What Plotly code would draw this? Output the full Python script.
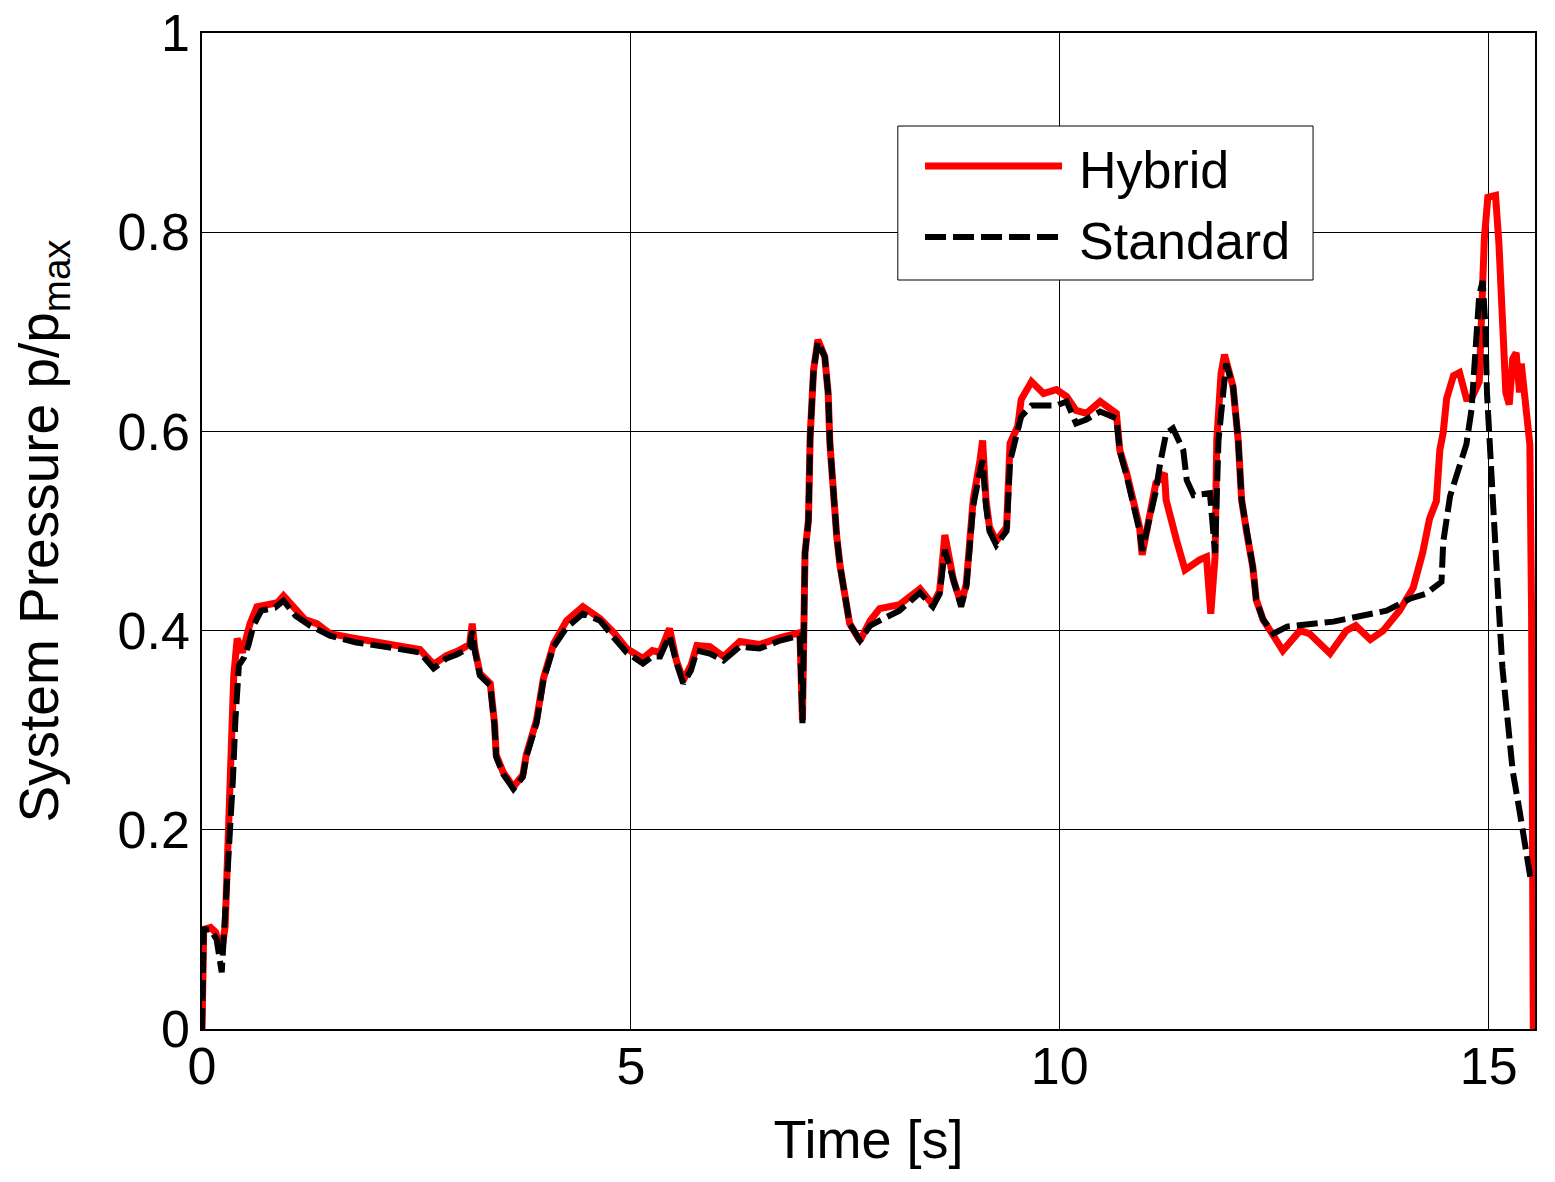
import plotly.graph_objects as go

# Hybrid run (red, solid)
t_hybrid = [0.00, 0.02, 0.10, 0.16, 0.21, 0.24, 0.27, 0.29, 0.31, 0.35, 0.37, 0.41, 0.47, 0.52, 0.56,
            0.64, 0.76, 0.88, 0.95, 1.09, 1.20, 1.34, 1.49, 1.80, 2.19, 2.54, 2.70, 2.85, 2.97, 3.12,
            3.15, 3.18, 3.24, 3.36, 3.41, 3.43, 3.51, 3.63, 3.74, 3.78, 3.90, 3.98, 4.10, 4.25, 4.44,
            4.50, 4.64, 4.80, 4.95, 5.14, 5.25, 5.34, 5.45, 5.53, 5.61, 5.70, 5.77, 5.92, 6.08, 6.27,
            6.50, 6.74, 6.97, 7.00, 7.03, 7.07, 7.09, 7.13, 7.18, 7.26, 7.30, 7.32, 7.36, 7.40, 7.44,
            7.49, 7.55, 7.67, 7.79, 7.90, 8.13, 8.37, 8.52, 8.60, 8.66, 8.76, 8.85, 8.91, 8.95, 8.99,
            9.07, 9.10, 9.14, 9.18, 9.26, 9.38, 9.42, 9.51, 9.55, 9.67, 9.81, 9.96, 10.08, 10.19, 10.31,
            10.47, 10.66, 10.70, 10.78, 10.85, 10.93, 10.96, 11.01, 11.12, 11.22, 11.24, 11.36, 11.46,
            11.63, 11.71, 11.76, 11.81, 11.83, 11.88, 11.92, 12.02, 12.08, 12.12, 12.18, 12.25, 12.29,
            12.37, 12.49, 12.60, 12.80, 12.91, 13.15, 13.34, 13.45, 13.62, 13.77, 13.96, 14.12, 14.23,
            14.31, 14.39, 14.43, 14.47, 14.51, 14.59, 14.66, 14.74, 14.80, 14.89, 14.93, 14.95, 14.99,
            15.08, 15.12, 15.16, 15.20, 15.24, 15.28, 15.32, 15.36, 15.38, 15.40, 15.44, 15.48, 15.50,
            15.52]
p_hybrid = [0.000, 0.100, 0.102, 0.097, 0.080, 0.085, 0.103, 0.163, 0.220, 0.290, 0.354, 0.392, 0.378,
            0.394, 0.407, 0.424, 0.426, 0.428, 0.435, 0.420, 0.411, 0.407, 0.397, 0.392, 0.386, 0.381,
            0.366, 0.375, 0.379, 0.386, 0.407, 0.382, 0.357, 0.347, 0.307, 0.275, 0.258, 0.243, 0.255,
            0.275, 0.310, 0.352, 0.387, 0.410, 0.424, 0.420, 0.412, 0.398, 0.382, 0.372, 0.380, 0.378,
            0.402, 0.370, 0.350, 0.365, 0.385, 0.384, 0.374, 0.389, 0.386, 0.393, 0.398, 0.310, 0.478,
            0.511, 0.595, 0.662, 0.692, 0.675, 0.638, 0.588, 0.538, 0.494, 0.464, 0.437, 0.407, 0.390,
            0.410, 0.422, 0.426, 0.442, 0.426, 0.440, 0.496, 0.451, 0.427, 0.447, 0.484, 0.531, 0.571,
            0.591, 0.531, 0.504, 0.490, 0.504, 0.588, 0.605, 0.632, 0.650, 0.638, 0.642, 0.635, 0.621,
            0.618, 0.630, 0.618, 0.581, 0.558, 0.531, 0.504, 0.476, 0.501, 0.548, 0.558, 0.531, 0.491,
            0.461, 0.471, 0.474, 0.417, 0.474, 0.591, 0.658, 0.677, 0.645, 0.591, 0.531, 0.498, 0.464,
            0.431, 0.411, 0.395, 0.380, 0.400, 0.397, 0.377, 0.400, 0.405, 0.391, 0.400, 0.420, 0.443,
            0.478, 0.512, 0.530, 0.581, 0.599, 0.633, 0.656, 0.659, 0.633, 0.633, 0.650, 0.748, 0.794,
            0.835, 0.837, 0.788, 0.708, 0.639, 0.627, 0.673, 0.679, 0.639, 0.668, 0.650, 0.622, 0.587,
            0.420, 0.000]

# Standard run (black, dashed)
t_standard = [0.00, 0.02, 0.10, 0.17, 0.23, 0.26, 0.29, 0.33, 0.36, 0.39, 0.43, 0.49, 0.54, 0.60, 0.69,
              0.85, 0.95, 1.09, 1.26, 1.49, 1.80, 2.19, 2.54, 2.70, 2.85, 2.97, 3.12, 3.15, 3.18, 3.24,
              3.36, 3.41, 3.43, 3.51, 3.63, 3.74, 3.78, 3.90, 3.98, 4.10, 4.25, 4.44, 4.50, 4.64, 4.80,
              4.95, 5.14, 5.25, 5.34, 5.45, 5.53, 5.61, 5.70, 5.77, 5.92, 6.08, 6.27, 6.50, 6.74, 6.97,
              7.00, 7.03, 7.07, 7.09, 7.13, 7.18, 7.26, 7.30, 7.32, 7.36, 7.40, 7.44, 7.49, 7.55, 7.67,
              7.79, 7.90, 8.13, 8.37, 8.52, 8.60, 8.66, 8.76, 8.85, 8.91, 8.95, 8.99, 9.07, 9.10, 9.14,
              9.18, 9.26, 9.38, 9.42, 9.51, 9.55, 9.67, 9.81, 9.96, 10.08, 10.19, 10.31, 10.47, 10.66,
              10.70, 10.78, 10.85, 10.93, 10.96, 11.01, 11.12, 11.17, 11.24, 11.32, 11.44, 11.48, 11.56,
              11.75, 11.81, 11.85, 11.94, 12.02, 12.08, 12.12, 12.18, 12.25, 12.29, 12.37, 12.49, 12.65,
              13.19, 13.34, 13.50, 13.81, 14.08, 14.27, 14.45, 14.47, 14.55, 14.63, 14.74, 14.80, 14.84,
              14.89, 14.93, 14.96, 14.98, 15.00, 15.04, 15.08, 15.12, 15.16, 15.22, 15.28, 15.36, 15.44,
              15.49]
p_standard = [0.000, 0.100, 0.100, 0.090, 0.057, 0.100, 0.154, 0.197, 0.250, 0.311, 0.365, 0.373, 0.385,
              0.405, 0.420, 0.423, 0.430, 0.415, 0.405, 0.395, 0.388, 0.383, 0.378, 0.362, 0.372, 0.376,
              0.383, 0.400, 0.380, 0.355, 0.345, 0.305, 0.273, 0.256, 0.241, 0.253, 0.273, 0.307, 0.350,
              0.384, 0.403, 0.417, 0.415, 0.410, 0.393, 0.378, 0.367, 0.374, 0.374, 0.395, 0.368, 0.347,
              0.360, 0.380, 0.377, 0.370, 0.384, 0.382, 0.390, 0.395, 0.307, 0.478, 0.511, 0.595, 0.662,
              0.690, 0.675, 0.638, 0.588, 0.538, 0.494, 0.464, 0.437, 0.407, 0.390, 0.405, 0.410, 0.420,
              0.438, 0.424, 0.437, 0.481, 0.451, 0.424, 0.444, 0.480, 0.525, 0.560, 0.571, 0.525, 0.500,
              0.486, 0.500, 0.570, 0.600, 0.615, 0.626, 0.626, 0.626, 0.630, 0.608, 0.612, 0.620, 0.613,
              0.580, 0.555, 0.528, 0.500, 0.480, 0.500, 0.540, 0.568, 0.598, 0.603, 0.581, 0.551, 0.536,
              0.538, 0.478, 0.591, 0.668, 0.645, 0.591, 0.531, 0.498, 0.464, 0.431, 0.411, 0.397, 0.404,
              0.409, 0.412, 0.414, 0.420, 0.432, 0.437, 0.449, 0.489, 0.535, 0.558, 0.587, 0.622, 0.679,
              0.737, 0.751, 0.708, 0.639, 0.604, 0.535, 0.478, 0.420, 0.363, 0.305, 0.259, 0.219, 0.179,
              0.150]

x_ticks = [0, 5, 10, 15]
y_ticks = [0, 0.2, 0.4, 0.6, 0.8, 1]
y_tick_labels = ["0", "0.2", "0.4", "0.6", "0.8", "1"]

FONT = "Liberation Sans, Arial, sans-serif"

fig = go.Figure()
fig.add_trace(go.Scatter(x=t_hybrid, y=p_hybrid, mode="lines", name="Hybrid",
                         line=dict(color="#ff0000", width=7)))
fig.add_trace(go.Scatter(x=t_standard, y=p_standard, mode="lines", name="Standard",
                         line=dict(color="#000000", width=6, dash="21px,7px")))

axis_style = dict(showline=True, linecolor="black", linewidth=1.5, mirror=True,
                  showgrid=True, gridcolor="black", gridwidth=1, zeroline=False,
                  ticks="inside", ticklen=8, tickcolor="black", ticklabeloverflow="allow",
                  tickfont=dict(family=FONT, size=52, color="black"))

fig.update_xaxes(range=[0, 15.54], tickvals=x_ticks, ticklabelstandoff=-9,
                 title=dict(text="Time [s]", font=dict(family=FONT, size=54, color="black"), standoff=26),
                 **axis_style)
fig.update_yaxes(range=[0, 1], tickvals=y_ticks, ticktext=y_tick_labels,
                 title=dict(text="System Pressure p/p<sub>max</sub>",
                            font=dict(family=FONT, size=55, color="black"), standoff=50),
                 **axis_style)

# legend drawn by hand to get the long line samples of the original
fig.add_shape(type="rect", xref="paper", yref="paper", x0=0.522, x1=0.8335, y0=0.752, y1=0.9066,
              line=dict(color="black", width=1), fillcolor="white", layer="above")
fig.add_shape(type="line", xref="paper", yref="paper", x0=0.5424, x1=0.6452, y0=0.8665, y1=0.8665,
              line=dict(color="#ff0000", width=7), layer="above")
fig.add_shape(type="line", xref="paper", yref="paper", x0=0.5424, x1=0.6452, y0=0.7952, y1=0.7952,
              line=dict(color="black", width=6, dash="21px,7px"), layer="above")
for label, ypos in [("Hybrid", 0.8625), ("Standard", 0.791)]:
    fig.add_annotation(xref="paper", yref="paper", x=0.6564, y=ypos, text=label, showarrow=False,
                       xanchor="left", yanchor="middle",
                       font=dict(family=FONT, size=52, color="black"))

# page body adds an 8px offset, margins compensate for it
fig.update_layout(width=1555, height=1182, showlegend=False,
                  plot_bgcolor="white", paper_bgcolor="white",
                  margin=dict(l=194, r=28, t=25, b=161, autoexpand=False),
                  font=dict(family=FONT, color="black"))

fig.write_html("out.html")
